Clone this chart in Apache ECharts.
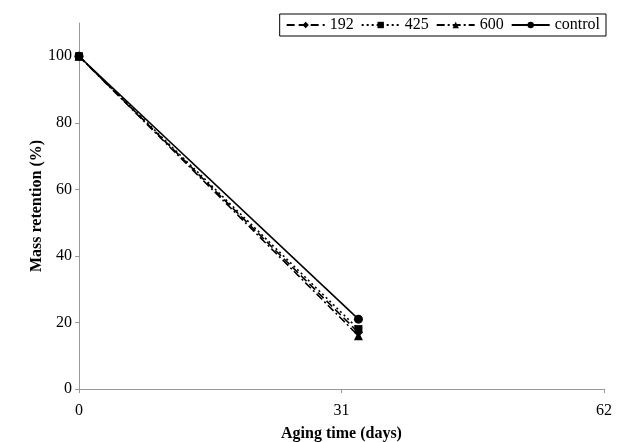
<!DOCTYPE html>
<html><head><meta charset="utf-8">
<script src="https://cdn.jsdelivr.net/npm/echarts@6/dist/echarts.min.js"></script>
<style>html,body{margin:0;padding:0;background:#fff}#c{width:622px;height:442px}</style>
</head><body><div id="c"></div>
<script>
const days = [0, 33];
const s192 = [100, 17];
const s425 = [100, 18];
const s600 = [100, 16];
const sControl = [100, 21];
const seriesNames = ['192', '425', '600', 'control'];
const xTicks = [0, 31, 62];
const yTicks = [0, 20, 40, 60, 80, 100];

const font = 'Liberation Serif';
const chart = echarts.init(document.getElementById('c'));
function mk(name, vals, type, symbol, size) {
  return {
    name: name, type: 'line',
    data: days.map((d, i) => [d, vals[i]]),
    symbol: symbol, symbolSize: size,
    itemStyle: {color: '#000'},
    lineStyle: {color: '#000', width: 1.6, type: type},
    animation: false
  };
}
chart.setOption({
  animation: false,
  textStyle: {fontFamily: font},
  grid: {left: 79, right: 18, top: 23, bottom: 53, outerBoundsMode: 'none', containLabel: false},
  legend: {
    top: 14, right: 16,
    orient: 'horizontal',
    borderColor: '#000', borderWidth: 1, padding: [3, 6, 3, 6],
    itemWidth: 38, itemHeight: 8, itemGap: 7,
    textStyle: {fontFamily: font, fontSize: 16, color: '#000'},
    data: seriesNames
  },
  xAxis: {
    type: 'value', min: 0, max: 62, interval: 31,
    name: 'Aging time (days)', nameLocation: 'middle', nameGap: 37, nameMoveOverlap: false,
    nameTextStyle: {fontFamily: font, fontSize: 16, fontWeight: 'bold', color: '#000'},
    axisLine: {lineStyle: {color: '#999', width: 1}},
    axisTick: {show: true, inside: false, length: 4, lineStyle: {color: '#999'}},
    axisLabel: {fontFamily: font, fontSize: 16, color: '#000', margin: 14},
    splitLine: {show: false}
  },
  yAxis: {
    type: 'value', min: 0, max: 110,
    name: 'Mass retention (%)', nameLocation: 'middle', nameGap: 34, nameMoveOverlap: false,
    nameTextStyle: {fontFamily: font, fontSize: 16, fontWeight: 'bold', color: '#000'},
    axisLine: {show: true, lineStyle: {color: '#999', width: 1}},
    axisTick: {show: true, length: 4, lineStyle: {color: '#999'}, customValues: yTicks},
    axisLabel: {fontFamily: font, fontSize: 16, color: '#000', margin: 7, customValues: yTicks},
    splitLine: {show: false}
  },
  series: [
    mk(seriesNames[0], s192, [8, 4], 'diamond', 9),
    mk(seriesNames[1], s425, [2, 3], 'rect', 8),
    mk(seriesNames[2], s600, [8, 3, 2, 3], 'triangle', 9),
    mk(seriesNames[3], sControl, 'solid', 'circle', 9)
  ]
});
</script></body></html>
